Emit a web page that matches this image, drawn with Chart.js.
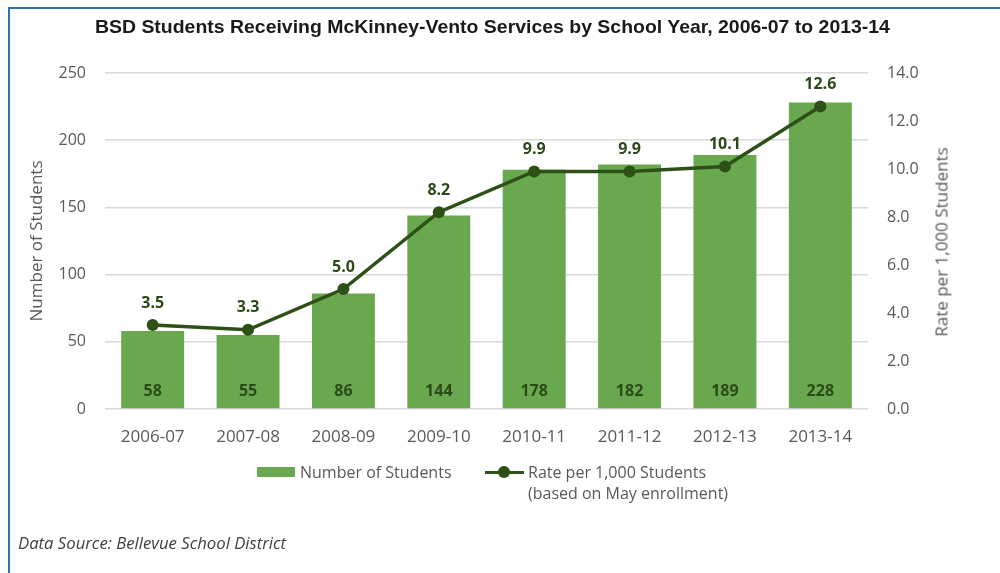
<!DOCTYPE html>
<html>
<head>
<meta charset="utf-8">
<script src="https://cdn.jsdelivr.net/npm/chart.js@4.4.1/dist/chart.umd.min.js"></script>
<style>
  html, body { margin: 0; padding: 0; background: #fff; }
  #wrap { position: relative; width: 1000px; height: 573px; overflow: hidden; font-family: "Open Sans", sans-serif; }
  #chart { position: absolute; left: 0; top: 0; }
  .bl { position: absolute; left: 8px; top: 7px; width: 2px; height: 570px; background: #2e74b5; }
  .bt { position: absolute; left: 8px; top: 7px; width: 992px; height: 2px; background: #2e74b5; }
  #titlebox { position: absolute; left: 0; width: 985px; top: 16px; text-align: center; }
  #title { display: inline-block; font-family: "Liberation Sans", Arial, sans-serif; font-weight: bold; font-size: 19px; line-height: 19px; color: #1a1a1a; white-space: nowrap; transform-origin: center; }
  .leg { position: absolute; font-size: 16px; color: #595959; white-space: nowrap; line-height: 21px; }
  #src { position: absolute; left: 18px; top: 531px; font-size: 16.7px; line-height: 24px; font-style: italic; color: #404040; }
  .sw { position: absolute; }
  #rtitle { position: absolute; left: 941px; top: 242px; font-size: 17px; color: #595959; white-space: nowrap; transform: translate(-50%, -50%) rotate(-90deg); }
</style>
</head>
<body>
<div id="wrap">
  <canvas id="chart" width="1000" height="573"></canvas>
  <div class="bl"></div><div class="bt"></div>
  <div id="titlebox"><span id="title">BSD Students Receiving McKinney-Vento Services by School Year, 2006-07 to 2013-14</span></div>
  <div id="rtitle">Rate per 1,000 Students</div>
  <div class="sw" style="left:257px;top:467px;width:38px;height:10px;background:#69a84f;"></div>
  <div class="leg" style="left:300px;top:462px;">Number of Students</div>
  <div class="sw" style="left:485px;top:471px;width:39px;height:3px;background:#2d5016;"></div>
  <div class="sw" style="left:498px;top:466px;width:12px;height:12px;border-radius:50%;background:#2d5016;"></div>
  <div class="leg" style="left:528px;top:462px;">Rate per 1,000 Students<br>(based on May enrollment)</div>
  <div id="src">Data Source: Bellevue School District</div>
</div>
<script>
const categories = ["2006-07","2007-08","2008-09","2009-10","2010-11","2011-12","2012-13","2013-14"];
const students = [58, 55, 86, 144, 178, 182, 189, 228];
const rates = [3.5, 3.3, 5.0, 8.2, 9.9, 9.9, 10.1, 12.6];
const leftTicks = [0, 50, 100, 150, 200, 250];
const rightTicks = [0, 2, 4, 6, 8, 10, 12, 14];

(function fitTitle() {
  const t = document.getElementById('title');
  const w = t.getBoundingClientRect().width;
  if (w > 0) t.style.transform = 'scaleX(' + (795 / w) + ')';
})();

const barColor = '#69a84f';
const lineColor = '#2d5016';
const labelColor = '#2b4a17';
const tickColor = '#595959';

const labelsPlugin = {
  id: 'valueLabels',
  afterDatasetsDraw(chart) {
    const ctx = chart.ctx;
    ctx.save();
    ctx.font = 'bold 16px "Open Sans", sans-serif';
    ctx.fillStyle = labelColor;
    ctx.textAlign = 'center';
    ctx.textBaseline = 'middle';
    const barMeta = chart.getDatasetMeta(1);
    barMeta.data.forEach((el, i) => {
      ctx.fillText(String(students[i]), el.x, el.base - 17);
    });
    const lineMeta = chart.getDatasetMeta(0);
    lineMeta.data.forEach((el, i) => {
      ctx.fillText(rates[i].toFixed(1), el.x, el.y - 22);
    });
    ctx.restore();
  }
};

new Chart(document.getElementById('chart'), {
  data: {
    labels: categories,
    datasets: [
      {
        type: 'line',
        label: 'Rate per 1,000 Students (based on May enrollment)',
        data: rates,
        yAxisID: 'y1',
        borderColor: lineColor,
        backgroundColor: lineColor,
        borderWidth: 3.5,
        pointRadius: 6,
        pointBackgroundColor: lineColor,
        pointBorderWidth: 0,
        tension: 0,
        order: 0
      },
      {
        type: 'bar',
        label: 'Number of Students',
        data: students,
        yAxisID: 'y',
        backgroundColor: barColor,
        barPercentage: 0.66,
        categoryPercentage: 1.0,
        order: 1
      }
    ]
  },
  options: {
    responsive: false,
    animation: false,
    events: [],
    layout: { padding: { top: 73, left: 0, right: 0, bottom: 0 } },
    plugins: { legend: { display: false }, tooltip: { enabled: false }, title: { display: false } },
    scales: {
      x: {
        grid: { display: false, drawTicks: false },
        border: { display: false },
        ticks: { color: tickColor, font: { family: '"Open Sans", sans-serif', size: 17 }, padding: 18, maxRotation: 0 },
        afterFit(s) { s.height = 164; }
      },
      y: {
        position: 'left',
        min: 0, max: 250,
        afterBuildTicks(s) { s.ticks = leftTicks.map(v => ({ value: v })); },
        grid: { color: '#d9d9d9', lineWidth: 1.5, drawTicks: false },
        border: { display: false },
        ticks: { color: tickColor, font: { family: '"Open Sans", sans-serif', size: 16 }, padding: 19 },
        title: { display: true, text: 'Number of Students', color: tickColor, font: { family: '"Open Sans", sans-serif', size: 17 }, padding: { top: 27, bottom: 0 } },
        afterFit(s) { s.width = 105; }
      },
      y1: {
        position: 'right',
        min: 0, max: 14,
        afterBuildTicks(s) { s.ticks = rightTicks.map(v => ({ value: v })); },
        grid: { display: false, drawTicks: false },
        border: { display: false },
        ticks: { color: tickColor, font: { family: '"Open Sans", sans-serif', size: 16 }, padding: 19, callback: v => Number(v).toFixed(1) },
        title: { display: false },
        afterFit(s) { s.width = 132; }
      }
    }
  },
  plugins: [labelsPlugin]
});
</script>
</body>
</html>
